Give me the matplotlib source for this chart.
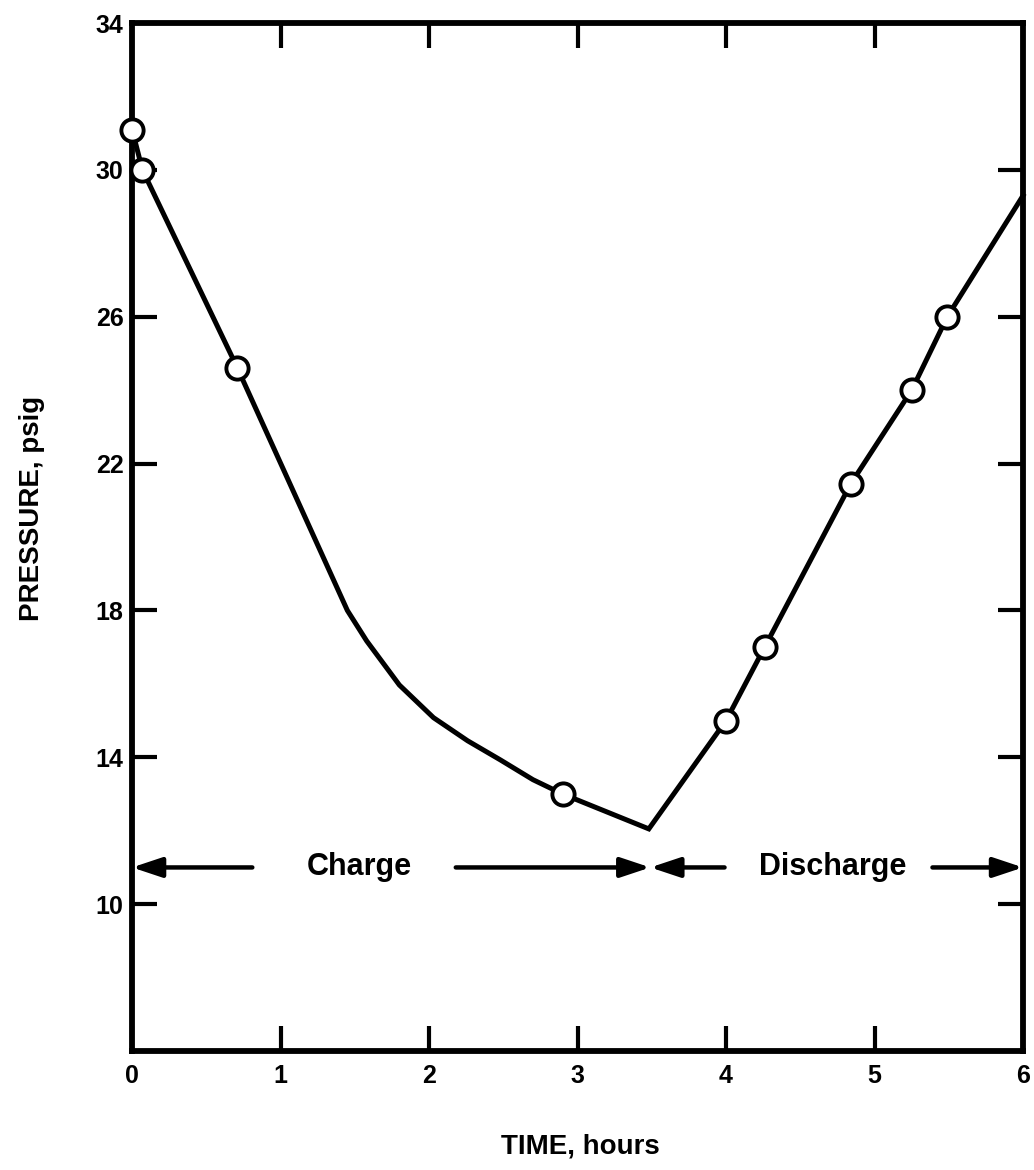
import numpy as np
import matplotlib.pyplot as plt

plt.rcParams['font.family'] = ['Liberation Sans', 'DejaVu Sans']
plt.rcParams['font.weight'] = 'bold'

# measured points (open circles)
point_time = [0.0, 0.07, 0.71, 2.90, 4.00, 4.26, 4.84, 5.25, 5.49]
point_pressure = [31.1, 30.0, 24.6, 13.0, 15.0, 17.0, 21.45, 24.0, 26.0]

# drawn curve through the points
curve_time = [0.0, 0.07, 0.71, 1.45, 1.58, 1.80, 2.03, 2.26, 2.48, 2.70,
              2.90, 3.48, 4.00, 4.26, 4.84, 5.25, 5.49, 6.0]
curve_pressure = [31.1, 30.0, 24.6, 18.0, 17.17, 15.97, 15.08, 14.45, 13.93,
                  13.39, 13.0, 12.05, 15.0, 17.0, 21.45, 24.0, 26.0, 29.3]

x_ticks = [0, 1, 2, 3, 4, 5, 6]
y_ticks = [10, 14, 18, 22, 26, 30, 34]

fig = plt.figure(figsize=(10.34, 11.70), dpi=100)
ax = fig.add_axes([0.1277, 0.1017, 0.8617, 0.8786])

ax.plot(curve_time, curve_pressure, color='black', lw=3.6, clip_on=False,
        solid_joinstyle='miter', zorder=3)
ax.plot(point_time, point_pressure, 'o', ms=16, mfc='white', mec='black',
        mew=2.8, clip_on=False, zorder=4)

ax.set_xlim(0, 6)
ax.set_ylim(6, 34)
ax.set_xticks(x_ticks)
ax.set_yticks(y_ticks)
ax.set_xticklabels([str(t) for t in x_ticks])
ax.set_yticklabels([str(t) for t in y_ticks])

for s in ax.spines.values():
    s.set_linewidth(4.2)

ax.tick_params(direction='in', length=18, width=3, labelsize=18,
               top=True, right=True)
ax.tick_params(axis='x', pad=9)
ax.tick_params(axis='y', pad=6)
for lab in ax.get_xticklabels() + ax.get_yticklabels():
    lab.set_fontweight('bold')

ax.set_xlabel('TIME, hours', fontsize=20, fontweight='bold')
ax.set_ylabel('PRESSURE, psig', fontsize=20, fontweight='bold')
ax.xaxis.set_label_coords(0.503, -0.093)
ax.yaxis.set_label_coords(-0.112, 0.528)
ax.xaxis.label.set_va('center')
ax.yaxis.label.set_va('center')

# charge / discharge arrows at 11 psig
y_arrow = 11
arr = dict(arrowstyle='-|>,head_length=1.8,head_width=0.6', lw=3.2,
           color='black', shrinkA=0, shrinkB=0)
ax.annotate('', xy=(0, y_arrow), xytext=(0.81, y_arrow), arrowprops=arr)
ax.annotate('', xy=(3.49, y_arrow), xytext=(2.18, y_arrow), arrowprops=arr)
ax.annotate('', xy=(3.49, y_arrow), xytext=(3.99, y_arrow), arrowprops=arr)
ax.annotate('', xy=(6.0, y_arrow), xytext=(5.39, y_arrow), arrowprops=arr)
ax.text(1.53, y_arrow, 'Charge', ha='center', va='center', fontsize=22,
        fontweight='bold')
ax.text(4.72, y_arrow, 'Discharge', ha='center', va='center', fontsize=22,
        fontweight='bold')

plt.savefig('out.png', dpi=100)
